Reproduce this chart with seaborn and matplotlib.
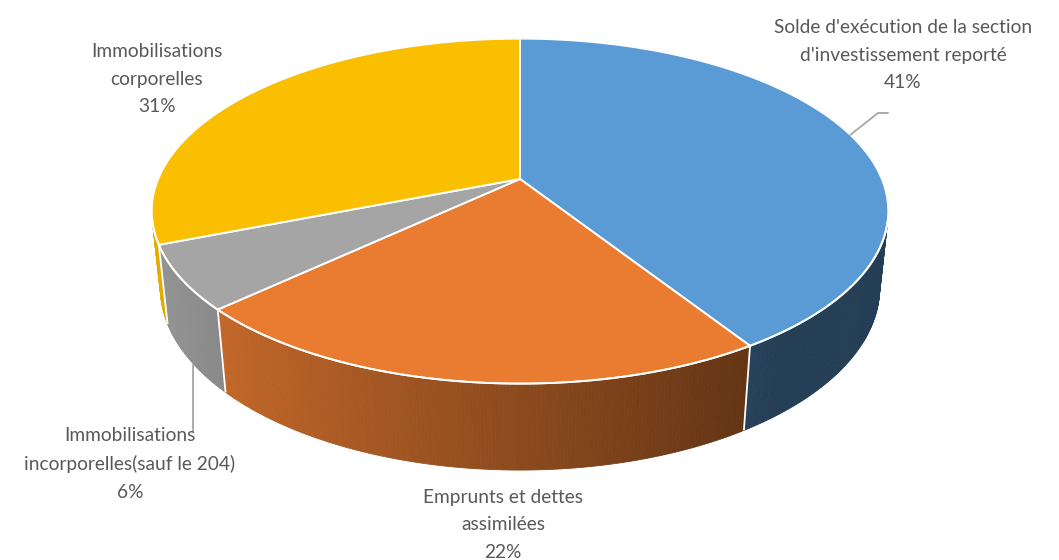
import numpy as np
import matplotlib
matplotlib.use("Agg")
import matplotlib.pyplot as plt
from matplotlib.patches import Polygon
import seaborn as sns

# Section d'investissement - répartition
categories = [
    "Solde d'exécution de la section\nd'investissement reporté",
    "Emprunts et dettes\nassimilées",
    "Immobilisations\nincorporelles(sauf le 204)",
    "Immobilisations\ncorporelles",
]
values = [41, 22, 6, 31]
colors = sns.color_palette(["#5B9BD5", "#EA7C31", "#A5A5A5", "#FABF00"])

sns.set_theme(style="white")
plt.rcParams["font.family"] = ["Lato", "DejaVu Sans"]

W, H = 1059, 560
fig = plt.figure(figsize=(W / 100, H / 100), dpi=100)
ax = fig.add_axes([0, 0, 1, 1])
ax.set_xlim(0, W)
ax.set_ylim(H, 0)
ax.axis("off")

# perspective camera for the 3D pie
alpha = np.radians(27.4)
ca, sa = np.cos(alpha), np.sin(alpha)
D, F = 4.77, 1726.0
THICK = 0.24
CX, CY = 520.0, 179.0


def proj(theta, r=1.0, z=0.0):
    theta = np.asarray(theta, dtype=float)
    X = r * np.sin(theta)
    Y = r * np.cos(theta)
    d = D + Y * ca - z * sa
    up = Y * sa + z * ca
    return CX + F * X / d, CY - F * up / d


fractions = np.array(values, dtype=float) / np.sum(values)
edges = np.concatenate([[0.0], np.cumsum(fractions)]) * 2 * np.pi

# visible part of the cylinder wall
lim = np.arccos(-1.0 / (D * ca))
vis_lo, vis_hi = lim, 2 * np.pi - lim


def shade(rgb, theta):
    b = 0.85 - 0.45 * (np.sin(theta) + 0.79) / 1.40
    b = np.clip(b, 0.40, 0.95)
    return tuple(np.clip(np.array(rgb) * b, 0, 1))


# side walls
for (a0, a1), col in zip(zip(edges[:-1], edges[1:]), colors):
    lo, hi = max(a0, vis_lo), min(a1, vis_hi)
    if hi <= lo:
        continue
    n = max(int((hi - lo) / np.radians(0.5)), 2)
    ts = np.linspace(lo, hi, n + 1)
    for t0, t1 in zip(ts[:-1], ts[1:]):
        x0, y0 = proj(t0)
        x1, y1 = proj(t1)
        x2, y2 = proj(t1, z=-THICK)
        x3, y3 = proj(t0, z=-THICK)
        c = shade(col, 0.5 * (t0 + t1))
        ax.add_patch(Polygon([(x0, y0), (x1, y1), (x2, y2), (x3, y3)],
                             closed=True, facecolor=c, edgecolor=c, lw=0.6))

# white seams between wall segments
for a in edges[1:-1]:
    if vis_lo < a < vis_hi:
        x0, y0 = proj(a)
        x1, y1 = proj(a, z=-THICK)
        ax.plot([x0, x1], [y0, y1], color="white", lw=1.3, solid_capstyle="butt")

# top face
for (a0, a1), col in zip(zip(edges[:-1], edges[1:]), colors):
    ts = np.linspace(a0, a1, 200)
    xs, ys = proj(ts)
    pts = np.column_stack([np.r_[CX, xs], np.r_[CY, ys]])
    ax.add_patch(Polygon(pts, closed=True, facecolor=col, edgecolor="white",
                         lw=1.4, joinstyle="round"))

# front rim highlight
ts = np.linspace(vis_lo, vis_hi, 300)
xs, ys = proj(ts)
ax.plot(xs, ys, color="white", lw=1.3)

# data labels
txt_col = "#595959"
fs = 13.8
mids = 0.5 * (edges[:-1] + edges[1:])
label_pos = [(903, 55), (503, 525), (130, 464), (157, 79)]
for cat, v, (lx, ly) in zip(categories, values, label_pos):
    ax.text(lx, ly, f"{cat}\n{v}%", ha="center", va="center", fontsize=fs,
            color=txt_col, linespacing=1.78)

# leader lines
lc = "#A6A6A6"
sx, sy = proj(mids[0])
ax.plot([sx, 878, 888], [sy, 113, 113], color=lc, lw=1.3)
sx, sy = proj(mids[2], z=-THICK)
ax.plot([193, 193], [sy + 6, 432], color=lc, lw=1.3)

fig.savefig("out.png", dpi=100, facecolor="white")
